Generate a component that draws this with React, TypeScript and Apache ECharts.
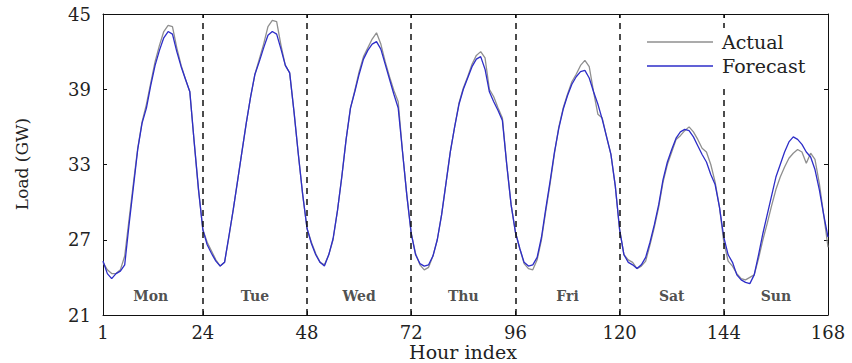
import React, { useEffect, useRef } from "react";
import * as echarts from "echarts";

const hours: number[] = Array.from({ length: 168 }, (_, i) => i + 1);

const actualLoad: number[] = [
  // Mon
  25.2, 24.6, 24.3, 24.3, 24.6, 25.7, 28.6, 31.5, 34.3, 36.4, 37.8, 39.5, 41.2, 42.5, 43.6, 44.1, 44.0, 42.3, 40.9, 39.8, 38.8, 34.8, 31.0, 27.8,
  // Tue
  26.8, 26.1, 25.4, 24.9, 25.2, 27.2, 29.4, 31.7, 34.0, 36.3, 38.4, 40.2, 41.4, 42.6, 44.0, 44.5, 44.4, 42.5, 40.9, 40.3, 37.2, 33.8, 30.6, 27.9,
  // Wed
  26.8, 25.9, 25.2, 25.0, 25.8, 27.0, 29.3, 32.0, 35.0, 37.5, 38.9, 40.4, 41.6, 42.3, 43.0, 43.5, 42.6, 41.2, 40.0, 38.9, 38.0, 34.0, 30.5, 27.5,
  // Thu
  25.9, 25.0, 24.6, 24.8, 25.7, 27.0, 29.0, 31.5, 34.0, 36.0, 37.9, 39.1, 40.0, 41.0, 41.7, 42.0, 41.5, 39.0, 38.4, 37.5, 36.7, 33.0, 29.8, 27.6,
  // Fri
  26.3, 25.1, 24.7, 24.6, 25.4, 27.0, 29.3, 31.5, 33.9, 36.0, 37.5, 38.6, 39.6, 40.2, 40.9, 41.3, 40.8, 38.8, 37.0, 36.7, 35.2, 33.8, 31.3, 27.8,
  // Sat
  25.8, 25.4, 25.2, 24.7, 24.9, 25.3, 26.6, 28.0, 29.6, 31.6, 33.0, 34.0, 35.0, 35.3, 35.7, 36.0, 35.6, 35.0, 34.3, 34.0, 33.0, 31.6, 29.6, 26.8,
  // Sun
  25.3, 24.9, 24.3, 23.9, 23.8, 24.0, 24.2, 25.5, 27.0, 28.3, 29.7, 31.0, 32.0, 32.8, 33.5, 33.9, 34.2, 34.0, 33.1, 33.9, 33.4, 31.5, 29.0, 26.4,
];

const forecastLoad: number[] = [
  // Mon
  25.3, 24.3, 23.9, 24.3, 24.5, 25.0, 28.2, 31.2, 34.2, 36.3, 37.5, 39.3, 40.9, 42.1, 43.1, 43.6, 43.4, 42.0, 40.8, 39.8, 38.8, 34.8, 31.0, 27.8,
  // Tue
  26.6, 25.9, 25.3, 24.9, 25.2, 27.3, 29.4, 31.7, 34.0, 36.3, 38.4, 40.2, 41.2, 42.3, 43.3, 43.6, 43.4, 42.2, 40.9, 40.3, 37.2, 33.8, 30.6, 27.9,
  // Wed
  26.7, 25.8, 25.2, 24.9, 25.8, 27.1, 29.3, 32.0, 35.0, 37.5, 38.8, 40.2, 41.4, 42.1, 42.6, 42.8, 42.2, 41.0, 39.8, 38.6, 37.5, 34.0, 30.5, 27.5,
  // Thu
  25.8, 25.1, 24.9, 25.0, 25.7, 27.0, 29.0, 31.5, 34.0, 36.0, 37.8, 39.0, 39.9, 40.8, 41.4, 41.6, 40.6, 38.8, 38.0, 37.3, 36.5, 33.0, 29.8, 27.6,
  // Fri
  26.3, 25.2, 24.9, 25.0, 25.6, 27.2, 29.5, 31.7, 34.0, 35.9, 37.4, 38.5, 39.4, 40.0, 40.4, 40.5, 39.9, 38.8, 37.8, 36.6, 35.2, 33.8, 31.3, 27.8,
  // Sat
  25.8, 25.2, 25.0, 24.7, 25.0, 25.6, 26.8, 28.2, 29.8, 31.8, 33.2, 34.2, 35.1, 35.6, 35.8, 35.7, 35.2, 34.5, 33.8, 33.2, 32.2, 31.4, 29.6, 27.2,
  // Sun
  25.8, 25.2, 24.2, 23.8, 23.6, 23.5, 24.2, 25.8, 27.5, 29.0, 30.5, 32.0, 33.0, 34.0, 34.8, 35.2, 35.0, 34.6, 34.0, 33.6, 32.6, 31.0, 29.0, 27.2,
];

const xTicks: number[] = [1, 24, 48, 72, 96, 120, 144, 168];
const yTicks: number[] = [21, 27, 33, 39, 45];
const dayBoundaries: number[] = [24, 48, 72, 96, 120, 144];
const dayNames: string[] = ["Mon", "Tue", "Wed", "Thu", "Fri", "Sat", "Sun"];
const dayCenters: number[] = [12, 36, 60, 84, 108, 132, 156];
const dayLabelLevel = 22.5;

const FONT = "DejaVu Serif";
const TEXT = "#222";
const ACTUAL_COLOR = "#8f8f8f";
const FORECAST_COLOR = "#2d2dc8";

export default function App() {
  const ref = useRef<HTMLDivElement>(null);

  useEffect(() => {
    if (!ref.current) return;
    const chart = echarts.init(ref.current, null, { renderer: "svg" });

    const axisLine = { show: true, lineStyle: { color: "#111", width: 1 } };
    const xTick = { show: true, inside: true, length: 4, customValues: xTicks, lineStyle: { color: "#111" } };
    const yTick = { show: true, inside: true, length: 4, customValues: yTicks, lineStyle: { color: "#111" } };

    chart.setOption({
      animation: false,
      backgroundColor: "#fff",
      grid: { left: 103, right: 24, top: 14, bottom: 48, outerBoundsMode: "none" },
      legend: {
        data: [
          { name: "Actual", icon: "rect", itemStyle: { color: ACTUAL_COLOR } },
          { name: "Forecast", icon: "rect", itemStyle: { color: FORECAST_COLOR } },
        ],
        orient: "vertical",
        left: 630,
        top: 28,
        padding: [4, 6, 8, 17],
        backgroundColor: "#fff",
        borderWidth: 0,
        z: 10,
        itemWidth: 66,
        itemHeight: 1.3,
        itemGap: 4,
        textStyle: { fontFamily: FONT, fontSize: 19, color: TEXT, lineHeight: 20, padding: [0, 0, 0, 4] },
      },
      xAxis: [
        {
          type: "value",
          min: 1,
          max: 168,
          position: "bottom",
          axisLine,
          axisTick: xTick,
          splitLine: { show: false },
          axisLabel: {
            customValues: xTicks,
            margin: 8,
            fontFamily: FONT,
            fontSize: 18,
            lineHeight: 18,
            color: TEXT,
            showMinLabel: true,
            showMaxLabel: true,
          },
        },
        {
          type: "value",
          min: 1,
          max: 168,
          position: "top",
          axisLine,
          axisTick: xTick,
          splitLine: { show: false },
          axisLabel: { show: false },
        },
      ],
      yAxis: [
        {
          type: "value",
          min: 21,
          max: 45,
          position: "left",
          axisLine,
          axisTick: yTick,
          splitLine: { show: false },
          axisLabel: {
            customValues: yTicks,
            margin: 12,
            fontFamily: FONT,
            fontSize: 18,
            color: TEXT,
            showMinLabel: true,
            showMaxLabel: true,
          },
        },
        {
          type: "value",
          min: 21,
          max: 45,
          position: "right",
          axisLine,
          axisTick: yTick,
          splitLine: { show: false },
          axisLabel: { show: false },
        },
      ],
      series: [
        {
          name: "Actual",
          type: "line",
          xAxisIndex: 0,
          yAxisIndex: 0,
          symbol: "none",
          data: hours.map((h, i) => [h, actualLoad[i]]),
          lineStyle: { color: ACTUAL_COLOR, width: 1.3 },
          itemStyle: { color: ACTUAL_COLOR },
          z: 2,
        },
        {
          name: "Forecast",
          type: "line",
          xAxisIndex: 0,
          yAxisIndex: 0,
          symbol: "none",
          data: hours.map((h, i) => [h, forecastLoad[i]]),
          lineStyle: { color: FORECAST_COLOR, width: 1.3 },
          itemStyle: { color: FORECAST_COLOR },
          z: 3,
        },
        {
          name: "boundaries",
          type: "line",
          xAxisIndex: 0,
          yAxisIndex: 0,
          data: [],
          silent: true,
          markLine: {
            silent: true,
            symbol: "none",
            label: { show: false },
            lineStyle: { color: "#111", type: [6, 5], width: 1.5 },
            data: dayBoundaries.map((b) => ({ xAxis: b })),
          },
          z: 3,
        },
        {
          name: "days",
          type: "scatter",
          xAxisIndex: 0,
          yAxisIndex: 0,
          symbolSize: 0,
          silent: true,
          data: dayNames.map((d, i) => [dayCenters[i], dayLabelLevel, d]),
          label: {
            show: true,
            position: "inside",
            formatter: (p: any) => p.data[2],
            fontFamily: FONT,
            fontSize: 14,
            fontWeight: "bold",
            color: TEXT,
          },
        },
      ],
      graphic: [
        {
          type: "text",
          x: 22,
          y: 164,
          rotation: Math.PI / 2,
          style: {
            text: "Load (GW)",
            fontFamily: FONT,
            fontSize: 17,
            fill: TEXT,
            textAlign: "center",
            textVerticalAlign: "middle",
          },
        },
        {
          type: "text",
          x: 463,
          y: 352,
          style: {
            text: "Hour index",
            fontFamily: FONT,
            fontSize: 19,
            lineHeight: 19,
            fill: TEXT,
            textAlign: "center",
            textVerticalAlign: "middle",
          },
        },
      ],
    });

    return () => chart.dispose();
  }, []);

  return <div ref={ref} style={{ width: 852, height: 363, position: "absolute", left: 0, top: 0 }} />;
}
